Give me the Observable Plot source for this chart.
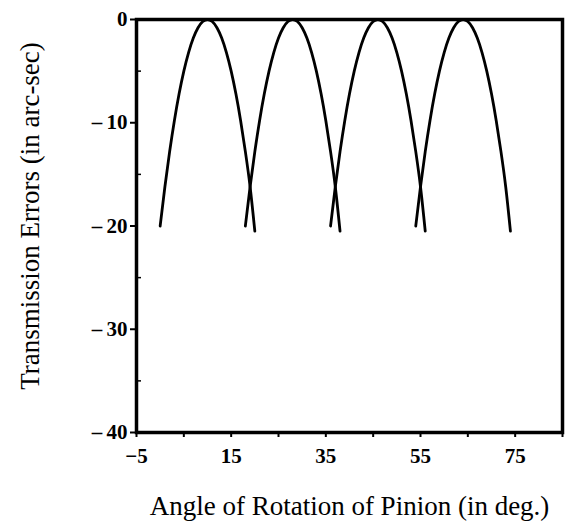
<!DOCTYPE html>
<html>
<head>
<meta charset="utf-8">
<script src="https://cdn.jsdelivr.net/npm/d3@7"></script>
<script src="https://cdn.jsdelivr.net/npm/@observablehq/plot@0.6"></script>
<style>
  html, body { margin: 0; padding: 0; background: #fff; }
</style>
</head>
<body>
<div id="chart"></div>
<script>
// Tooth-contact arcs: peak angle of each meshing tooth (deg)
const toothPeaks = [10, 28, 46, 64];
// Profile of one arc: offset from peak (deg) and error (arc-sec)
const profileOffset = [-10, -9, -8, -7, -6, -5, -4, -3, -2, -1, 0, 1, 2, 3, 4, 5, 6, 7, 8, 9, 10];
const profileError  = [-20, -16.2, -12.8, -9.8, -7.2, -5, -3.2, -1.8, -0.8, -0.2, 0, -0.2, -0.8, -1.8, -3.2, -5, -7.2, -9.8, -12.8, -16.2, -20.5];

const xTicks = [-5, 5, 15, 25, 35, 45, 55, 65, 75, 85];
const xLabels = [-5, 15, 35, 55, 75];
const yTicks = [0, -10, -20, -30, -40];
const yMinor = [-5, -15, -25, -35];

const xTitle = "Angle of Rotation of Pinion (in deg.)";
const yTitle = "Transmission Errors (in arc-sec)";

const rows = [];
toothPeaks.forEach((p, i) => {
  profileOffset.forEach((o, j) => rows.push({tooth: i, angle: p + o, error: profileError[j]}));
});

const serif = "'Liberation Serif', 'DejaVu Serif', serif";

const chart = Plot.plot({
  className: "te",
  width: 565,
  height: 523,
  marginLeft: 136,
  marginRight: 3,
  marginTop: 19,
  marginBottom: 91,
  style: {background: "white", color: "black", fontFamily: serif},
  x: {domain: [-5, 85]},
  y: {domain: [-40, 0]},
  marks: [
    Plot.axisX({ticks: xTicks, tickSize: 5, tickFormat: () => "", strokeWidth: 2, label: null}),
    Plot.axisX({ticks: xLabels, tickSize: 0, tickPadding: 16, fontSize: 21,
      tickFormat: d => d < 0 ? "\u2212" + Math.abs(d) : String(d), label: null}),
    Plot.axisX({ticks: [], label: xTitle, labelAnchor: "center", labelOffset: 82, labelArrow: "none",
      fontSize: 27}),
    Plot.axisY({ticks: yTicks, tickSize: 6, tickPadding: 3, strokeWidth: 2, fontSize: 21,
      tickFormat: d => d < 0 ? "\u2013\u2009" + Math.abs(d) : String(d), label: null}),
    Plot.axisY({ticks: yMinor, tickSize: -5, tickFormat: () => "", strokeWidth: 1.5, label: null}),
    Plot.axisY({ticks: [], label: yTitle, labelAnchor: "center", labelOffset: 117, labelArrow: "none",
      fontSize: 27}),
    Plot.frame({stroke: "black", strokeWidth: 3.5}),
    Plot.line(rows, {x: "angle", y: "error", z: "tooth", stroke: "black", strokeWidth: 2.8, curve: "natural"})
  ]
});
document.getElementById("chart").appendChild(chart);

const svg = d3.select(chart);
svg.selectAll('g[aria-label="x-axis tick label"], g[aria-label="y-axis tick label"]')
  .style("font-family", serif).style("font-size", "21px").style("font-weight", "bold");
svg.selectAll('g[aria-label="x-axis label"], g[aria-label="y-axis label"]')
  .style("font-family", serif).style("font-size", "27px").style("font-weight", "normal");
svg.selectAll('g[aria-label="y-axis label"] text').attr("dx", 10);
</script>
</body>
</html>
